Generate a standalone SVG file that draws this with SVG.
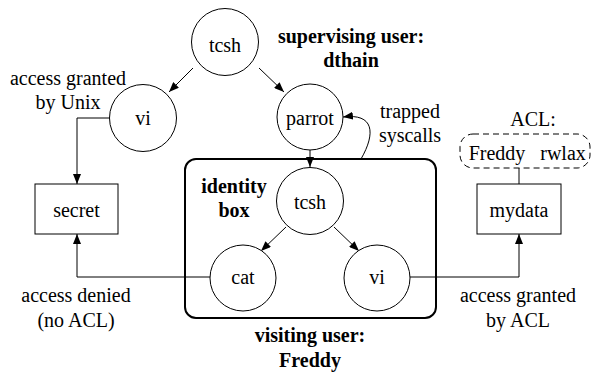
<svg xmlns="http://www.w3.org/2000/svg" width="593" height="375" viewBox="0 0 593 375">
<style>
text{font-family:'Liberation Serif',Tinos,'Times New Roman',Times,'DejaVu Serif',serif;font-size:20px;fill:#000;text-anchor:middle}
.b{font-weight:bold}
.n{fill:#fff;stroke:#000;stroke-width:1}
.c{fill:none;stroke:#000;stroke-width:1}
</style>
<defs>
<marker id="ah" viewBox="0 0 10 8" refX="10" refY="4" markerWidth="10" markerHeight="8" markerUnits="userSpaceOnUse" orient="auto">
<path d="M0,0 L10,4 L0,8 Z" fill="#000"/>
</marker>
</defs>
<rect id="identity-box" x="185" y="159" width="251" height="159" rx="11" fill="none" stroke="#000" stroke-width="2"/>
<g id="connectors">
<path class="c" d="M193,68 L169,92" marker-end="url(#ah)"/>
<path class="c" d="M259,68 L284,92" marker-end="url(#ah)"/>
<path class="c" d="M109,118 H77 V184" marker-end="url(#ah)"/>
<path class="c" d="M310,150 V167" marker-end="url(#ah)"/>
<path class="c" d="M361,159 C376,133 374,113 343,117" marker-end="url(#ah)"/>
<path class="c" d="M286,227 L261,251" marker-end="url(#ah)"/>
<path class="c" d="M334,227 L359,251" marker-end="url(#ah)"/>
<path class="c" d="M210,277 H77 V234" marker-end="url(#ah)"/>
<path class="c" d="M410,277 H519 V234" marker-end="url(#ah)"/>
<path class="c" d="M519,168 V184"/>
</g>
<g id="tcsh-top"><circle class="n" cx="225" cy="42" r="33.5"/><text x="225" y="52">tcsh</text></g>
<g id="vi-top"><circle class="n" cx="143" cy="118" r="33.5"/><text x="143" y="125">vi</text></g>
<g id="parrot"><circle class="n" cx="310" cy="117" r="33"/><text x="310" y="125">parrot</text></g>
<g id="tcsh-inner"><circle class="n" cx="310" cy="201" r="33.5"/><text x="310" y="209">tcsh</text></g>
<g id="cat"><circle class="n" cx="243" cy="278" r="33"/><text x="243" y="284">cat</text></g>
<g id="vi-inner"><circle class="n" cx="377" cy="278" r="33"/><text x="377" y="284">vi</text></g>
<g id="secret"><rect class="n" x="35" y="184" width="83" height="50"/><text x="76.5" y="217">secret</text></g>
<g id="mydata"><rect class="n" x="477" y="184" width="84" height="50"/><text x="519" y="217">mydata</text></g>
<g id="acl"><rect x="460" y="134" width="130" height="34" rx="13" fill="none" stroke="#000" stroke-width="1" stroke-dasharray="6,4"/>
<text x="497" y="160">Freddy</text><text x="563" y="160">rwlax</text>
<text x="533" y="126">ACL:</text></g>
<g id="labels">
<text x="68" y="85">access granted</text>
<text x="68" y="109">by Unix</text>
<text class="b" x="351" y="43">supervising user:</text>
<text class="b" x="351" y="67">dthain</text>
<text x="410" y="118">trapped</text>
<text x="410" y="142">syscalls</text>
<text class="b" x="234" y="193">identity</text>
<text class="b" x="234" y="217">box</text>
<text x="76" y="302">access denied</text>
<text x="76" y="327">(no ACL)</text>
<text x="518" y="302">access granted</text>
<text x="518" y="327">by ACL</text>
<text class="b" x="310" y="342">visiting user:</text>
<text class="b" x="310" y="367">Freddy</text>
</g>
</svg>
